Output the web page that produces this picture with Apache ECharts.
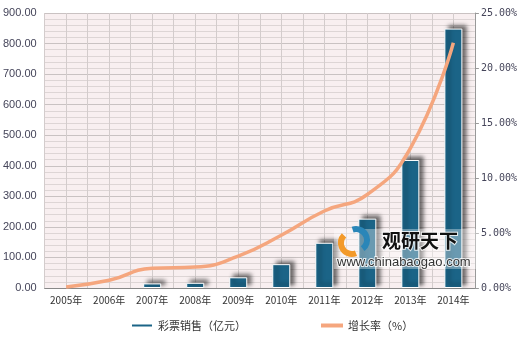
<!DOCTYPE html>
<html><head><meta charset="utf-8">
<script src="https://cdn.jsdelivr.net/npm/echarts@6/dist/echarts.min.js"></script>
<style>html,body{margin:0;padding:0;background:#fff}#c{width:520px;height:344px}</style>
</head><body><div id="c"></div>
<script>
var categories = ['2005年','2006年','2007年','2008年','2009年','2010年','2011年','2012年','2013年','2014年'];
var sales = [0, 0, 15, 17, 35, 78, 148, 227, 419, 849];
var growth = [0.1, 0.7, 1.8, 1.9, 2.9, 4.8, 7.0, 8.5, 12.7, 22.3];
var leftTicks = [0, 900, 100];
var rightTicks = [0, 25, 5];

var chart = echarts.init(document.getElementById('c'));
var lab = {color:'#45455a', fontSize:11, fontFamily:'Liberation Sans, Arial'};
var barData = sales.map(function(v){
  return v === 0 ? {value:v, itemStyle:{shadowBlur:0, shadowOffsetX:0, shadowOffsetY:0, borderWidth:0, shadowColor:'transparent'}} : v;
});
chart.setOption({
  animation:false,
  backgroundColor:'#fff',
  grid:{left:44, right:39, top:13, bottom:56, show:true, backgroundColor:'#f8eff0', borderWidth:0},
  legend:{
    bottom:8, left:125, itemGap:75, itemWidth:22, itemHeight:4, icon:'rect',
    textStyle:{color:'#333', fontSize:11, fontFamily:'Noto Sans CJK SC'},
    data:['彩票销售（亿元）','增长率（%）']
  },
  xAxis:[{
    type:'category', data:categories,
    axisLine:{lineStyle:{color:'#888'}}, axisTick:{show:false},
    axisLabel:{color:'#333', fontSize:10, fontFamily:'Noto Sans CJK SC', margin:7}
  },{
    type:'value', min:0, max:20, interval:1, position:'bottom',
    axisLine:{show:false}, axisTick:{show:false}, axisLabel:{show:false},
    splitLine:{show:true, lineStyle:{color:'#d3cccc', width:1}}
  }],
  yAxis:[{
    type:'value', min:leftTicks[0], max:leftTicks[1], interval:leftTicks[2],
    axisLine:{show:false}, axisTick:{show:false},
    axisLabel:Object.assign({formatter:function(v){return v.toFixed(2);}, margin:8}, lab),
    splitLine:{lineStyle:{color:'#c9c2c2'}},
    minorTick:{show:false, splitNumber:5},
    minorSplitLine:{show:true, lineStyle:{color:'#ddd5d5'}}
  },{
    type:'value', min:rightTicks[0], max:rightTicks[1], interval:rightTicks[2], position:'right',
    axisLine:{show:true, lineStyle:{color:'#999'}}, axisTick:{show:true, length:4, lineStyle:{color:'#999'}},
    axisLabel:{formatter:function(v){return v.toFixed(2)+'%';}, color:'#45455a', fontSize:10, fontFamily:'DejaVu Sans Mono', margin:6},
    splitLine:{show:false}
  }],
  graphic:{elements:[
    {type:'rect', zlevel:2, shape:{x:334, y:229, width:145, height:40}, style:{fill:'rgba(255,255,255,0.35)'}},
    {type:'arc', zlevel:2, shape:{cx:352, cy:243, r:11, startAngle:1.2, endAngle:3.9}, style:{stroke:'#f39a2a', lineWidth:6, fill:'none'}},
    {type:'arc', zlevel:2, shape:{cx:356, cy:240, r:11, startAngle:4.4, endAngle:7.2}, style:{stroke:'#2a86b8', lineWidth:6, fill:'none'}},
    {type:'text', zlevel:2, left:381, top:230, style:{text:'观研天下', fill:'#111', font:'bold 19px "Noto Sans CJK SC"', stroke:'rgba(255,255,255,0.8)', lineWidth:2}},
    {type:'text', zlevel:2, left:336, top:255, style:{text:'www.chinabaogao.com', fill:'#333', font:'13px "Liberation Sans"', stroke:'rgba(255,255,255,0.8)', lineWidth:2}}
  ]},
  series:[{
    name:'彩票销售（亿元）', type:'bar', data:barData, xAxisIndex:0, yAxisIndex:0, barWidth:18,
    itemStyle:{color:'#1b6487', borderColor:'#fff', borderWidth:1,
      shadowColor:'rgba(0,0,0,0.55)', shadowBlur:4, shadowOffsetX:4, shadowOffsetY:-3}
  },{
    name:'增长率（%）', type:'line', data:growth, xAxisIndex:0, yAxisIndex:1, smooth:true,
    symbol:'none', lineStyle:{color:'#f5a67e', width:3.5}, itemStyle:{color:'#f5a67e'}
  }]
});
</script></body></html>
